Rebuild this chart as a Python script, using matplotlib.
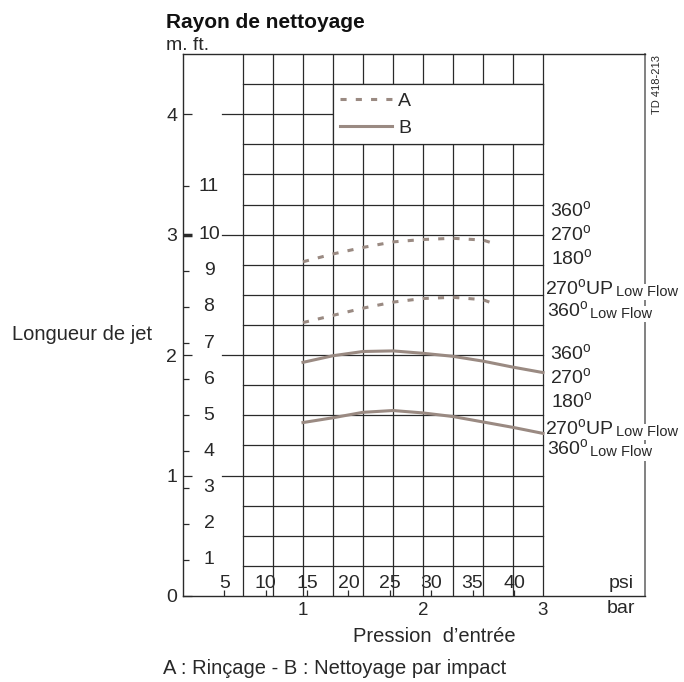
import matplotlib
matplotlib.use("Agg")
import matplotlib.pyplot as plt
from matplotlib.patches import Rectangle

plt.rcParams["font.family"] = ["Liberation Sans", "DejaVu Sans"]
plt.rcParams["mathtext.fontset"] = "custom"
plt.rcParams["mathtext.rm"] = "Liberation Sans"

# curve data (pressure in bar, throw in m)
a_x = [1.0, 1.25, 1.5, 1.75, 2.0, 2.25, 2.5, 2.58]
a_hi = [2.775, 2.84, 2.894, 2.94, 2.96, 2.97, 2.955, 2.93]
a_lo = [2.27, 2.33, 2.39, 2.44, 2.47, 2.48, 2.46, 2.43]

b_x = [1.0, 1.25, 1.5, 1.75, 2.0, 2.25, 2.5, 2.75, 3.0]
b_hi = [1.94, 1.995, 2.03, 2.035, 2.015, 1.99, 1.95, 1.90, 1.855]
b_lo = [1.44, 1.48, 1.525, 1.54, 1.52, 1.49, 1.445, 1.40, 1.35]

# axis ticks
m_ticks = [0, 1, 2, 3, 4]
ft_labels = ["1", "2", "3", "4", "5", "6", "7", "8", "9", "10", "11"]
ft_ticks_m = [0.30, 0.60, 0.90, 1.20, 1.50, 1.80, 2.10, 2.40, 2.70, 3.00, 3.40]
bar_ticks = [1, 2, 3]
psi_ticks = [5, 10, 15, 20, 25, 30, 35, 40]
PSI_TO_BAR = 0.06895

# nozzle labels on the right
nozzle_main = ["360", "270", "180", "270", "360", "360", "270", "180", "270", "360"]
nozzle_suffix = ["", "", "", "UP", "", "", "", "", "UP", ""]
nozzle_small = ["", "", "", "Low Flow", "Low Flow", "", "", "", "Low Flow", "Low Flow"]
nozzle_y = [3.20, 3.00, 2.80, 2.55, 2.37, 2.01, 1.81, 1.61, 1.39, 1.22]
nozzle_x = [3.06, 3.055, 3.07, 3.02, 3.03, 3.06, 3.055, 3.07, 3.02, 3.03]

col = "#9a8a82"
grid_c = "#2a2a2a"
txt_c = "#282828"
fs = 14

fig = plt.figure(figsize=(6.84, 6.82), dpi=100)
ax = fig.add_axes([183 / 684, 86 / 682, 462 / 684, 542 / 682])
ax.set_xlim(0, 3.85)
ax.set_ylim(0, 4.5)

# grid
gx = [0.5 + 0.25 * i for i in range(11)]
for x in gx:
    ax.axvline(x, color=grid_c, lw=0.9, zorder=3.5)
for i in range(1, 18):
    y = 0.25 * i
    if i % 4 == 0:
        right = 1.25 if y == 4 else 3.0
        ax.plot([0.325, right], [y, y], color=grid_c, lw=0.9, zorder=3.5)
    else:
        ax.plot([0.5, 3.0], [y, y], color=grid_c, lw=0.9, zorder=3.5)

# legend box
ax.add_patch(Rectangle((1.25, 3.75), 1.75, 0.5, facecolor="white",
                       edgecolor=grid_c, lw=0.9, zorder=3.6))

# curves
ax.plot(a_x, a_hi, color=col, lw=2.2, dashes=(2, 3), zorder=4, label="A")
ax.plot(a_x, a_lo, color=col, lw=2.2, dashes=(2, 3), zorder=4)
ax.plot(b_x, b_hi, color=col, lw=2.2, zorder=4, label="B")
ax.plot(b_x, b_lo, color=col, lw=2.2, zorder=4)

leg = ax.legend(loc="upper left", bbox_to_anchor=(1.308, 4.18),
                bbox_transform=ax.transData, frameon=False, fontsize=fs,
                handlelength=2.7, handletextpad=0.3, labelspacing=0.46,
                borderpad=0, borderaxespad=0)
for t in leg.get_texts():
    t.set_color(txt_c)
leg.set_zorder(6)

# spines
for s in ["left", "bottom", "top"]:
    ax.spines[s].set_color(grid_c)
    ax.spines[s].set_linewidth(1.0)
ax.spines["right"].set_color("#777777")
ax.spines["right"].set_linewidth(1.3)
ax.spines["right"].set_zorder(2.5)

# y ticks: metres (major) and feet (minor)
ax.set_yticks(m_ticks)
ax.set_yticklabels([str(m) for m in m_ticks])
ax.set_yticks(ft_ticks_m, minor=True)
ax.tick_params(axis="y", which="major", direction="in", length=6.5, width=0.9,
               pad=4.3, labelsize=fs, labelcolor=txt_c, color=grid_c)
ax.tick_params(axis="y", which="minor", direction="in", length=4.3, width=0.9,
               labelleft=False, color=grid_c)
ax.yaxis.get_major_ticks()[3].tick1line.set_markeredgewidth(2.5)
for lab, ym in zip(ft_labels, ft_ticks_m):
    ax.text(0.217, ym, lab, ha="center", va="center", fontsize=fs, color=txt_c)

# x ticks: bar (major labels) and psi (minor ticks)
ax.set_xticks(bar_ticks)
ax.set_xticklabels([str(b) for b in bar_ticks])
ax.set_xticks([p * PSI_TO_BAR for p in psi_ticks], minor=True)
ax.tick_params(axis="x", which="major", length=0, pad=4, labelsize=fs - 0.5,
               labelcolor=txt_c)
ax.tick_params(axis="x", which="minor", direction="in", length=4.3, width=0.9,
               color=grid_c)
for p in psi_ticks:
    ax.text(p * PSI_TO_BAR, 0.105, str(p), ha="center", va="center",
            fontsize=fs, color=txt_c)
ax.text(3.65, 0.105, "psi", ha="center", va="center", fontsize=fs, color=txt_c)
ax.text(3.65, -0.1, "bar", ha="center", va="center", fontsize=fs, color=txt_c,
        clip_on=False)

# nozzle labels
for main, suf, small, x, y in zip(nozzle_main, nozzle_suffix, nozzle_small,
                                  nozzle_x, nozzle_y):
    t = ax.text(x, y, main + r"$^{\mathregular{o}}$" + suf, ha="left",
                va="center", fontsize=fs, color=txt_c, zorder=3,
                bbox=dict(facecolor="white", edgecolor="none", pad=0.8))
    if small:
        ax.annotate(small, xy=(1, 0), xycoords=t, xytext=(1.5, 0),
                    textcoords="offset points", ha="left", va="bottom",
                    fontsize=10.5, color=txt_c, zorder=3,
                    bbox=dict(facecolor="white", edgecolor="none", pad=0.8))

ax.text(3.95, 4.25, "TD 418-213", rotation=90, ha="center", va="center",
        fontsize=8, color=txt_c, clip_on=False)

# titles and labels
fig.text(166 / 684, 1 - 22 / 682, "Rayon de nettoyage", fontsize=15,
         weight="bold", ha="left", va="center", color="#111111")
fig.text(166 / 684, 1 - 45 / 682, "m. ft.", fontsize=fs, ha="left",
         va="center", color=txt_c)
fig.text(12 / 684, 1 - 335 / 682, "Longueur de jet", fontsize=fs + 0.5,
         ha="left", va="center", color=txt_c)
fig.text(434 / 684, 1 - 637 / 682, "Pression  d’entrée", fontsize=fs + 0.5,
         ha="center", va="center", color=txt_c)
fig.text(163 / 684, 1 - 668 / 682, "A : Rinçage - B : Nettoyage par impact",
         fontsize=fs + 0.5, ha="left", va="center", color=txt_c)

fig.savefig("out.png", dpi=100)
